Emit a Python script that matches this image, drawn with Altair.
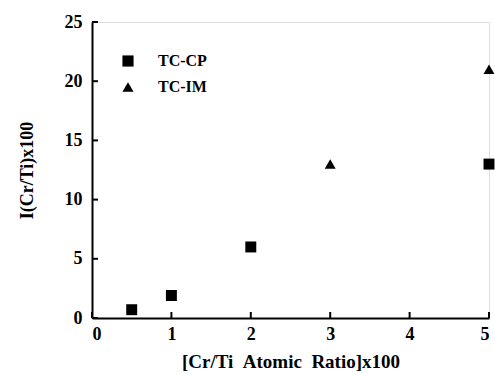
import altair as alt
import pandas as pd

cp_x = [0.5, 1, 2, 5]
cp_y = [0.7, 1.9, 6.0, 13.0]
im_x = [3, 5]
im_y = [13.0, 21.0]
x_ticks = [0, 1, 2, 3, 4, 5]
y_ticks = [0, 5, 10, 15, 20, 25]
series = ["TC-CP", "TC-IM"]
x_title = "[Cr/Ti\u00a0\u00a0Atomic\u00a0\u00a0Ratio]x100"
y_title = "I(Cr/Ti)x100"

df = pd.DataFrame(
    [{"x": a, "y": b, "s": "TC-CP"} for a, b in zip(cp_x, cp_y)]
    + [{"x": a, "y": b, "s": "TC-IM"} for a, b in zip(im_x, im_y)]
)
xt = pd.DataFrame({"v": x_ticks})
yt = pd.DataFrame({"v": y_ticks})

FONT = "Liberation Serif"
xs = alt.Scale(domain=[0, 5], nice=False, zero=False)
ys = alt.Scale(domain=[0, 25], nice=False, zero=False)

pts = alt.Chart(df).mark_point(filled=True, opacity=1, color="black", size=120).encode(
    x=alt.X("x:Q", scale=xs, title=x_title,
            axis=alt.Axis(values=x_ticks, format="d", ticks=False, labelPadding=7, grid=False,
                          labelFontSize=18, labelFont=FONT, labelFontWeight="bold",
                          labelColor="black", titleFont=FONT, titleFontSize=19,
                          titleFontWeight="bold", titleColor="black", titlePadding=9,
                          domainColor="black", domainWidth=2)),
    y=alt.Y("y:Q", scale=ys, title=y_title,
            axis=alt.Axis(values=y_ticks, format="d", ticks=False, labelPadding=10, grid=False,
                          labelFontSize=18, labelFont=FONT, labelFontWeight="bold",
                          labelColor="black", titleFont=FONT, titleFontSize=18,
                          titleFontWeight="bold", titleColor="black", titlePadding=28,
                          domainColor="black", domainWidth=2)),
    shape=alt.Shape("s:N", scale=alt.Scale(domain=series, range=["square", "triangle-up"]),
                    legend=alt.Legend(title=None, orient="none", legendX=28, legendY=31,
                                      labelFont=FONT, labelFontSize=16, labelFontWeight="bold",
                                      labelColor="black", symbolFillColor="black",
                                      symbolStrokeColor="black", symbolSize=125,
                                      symbolOpacity=1,
                                      labelOffset=22, rowPadding=9)),
)

xtick = alt.Chart(xt).mark_rule(color="black", strokeWidth=2).encode(
    x=alt.X("v:Q", scale=xs), y=alt.value(296), y2=alt.value(290))
ytick = alt.Chart(yt).mark_rule(color="black", strokeWidth=2).encode(
    y=alt.Y("v:Q", scale=ys), x=alt.value(0), x2=alt.value(6))

chart = alt.layer(xtick, ytick, pts).properties(
    width=397, height=296,
    autosize=alt.AutoSizeParams(type="none"),
    padding={"left": 92, "top": 22, "right": 6, "bottom": 56},
).configure_view(stroke=None).configure(background="white")

chart.save("out.html", embed_options={"renderer": "svg", "actions": False})
